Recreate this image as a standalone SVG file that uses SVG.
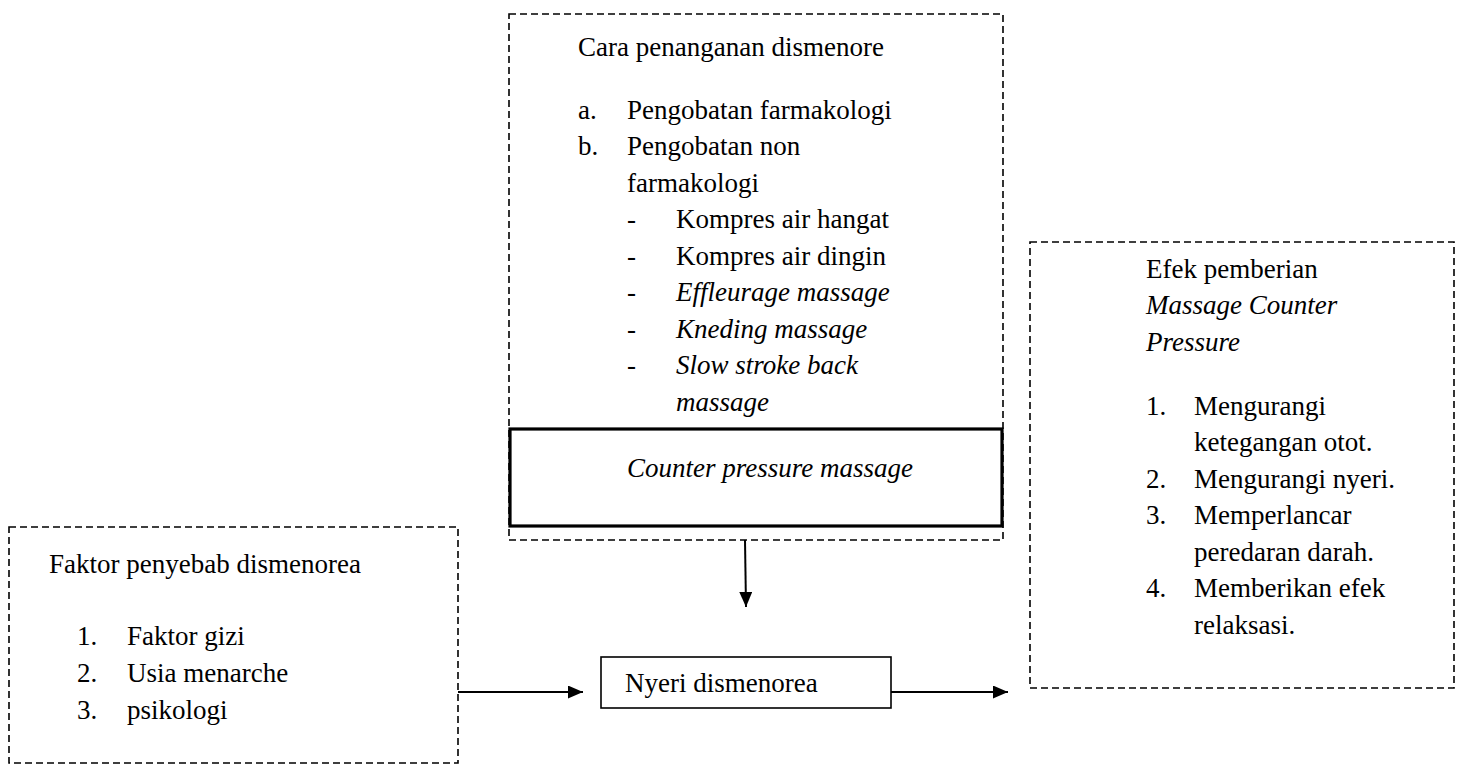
<svg xmlns="http://www.w3.org/2000/svg" width="1464" height="765" viewBox="0 0 1464 765">
<style>
.it{font-style:italic}
.dash{fill:none;stroke:#000;stroke-width:1.6;stroke-dasharray:7,4}
.solid{fill:#fff;stroke:#000;stroke-width:1.6}
.thick{fill:none;stroke:#000;stroke-width:3.2}
.conn{stroke:#000;stroke-width:2;fill:none}
</style>
<defs>
<marker id="ah" markerWidth="15" markerHeight="13" refX="15" refY="6.5" orient="auto" markerUnits="userSpaceOnUse">
<path d="M0,0 L15,6.5 L0,13 Z" fill="#000"/>
</marker>
</defs>
<rect width="1464" height="765" fill="#fff"/>
<g font-family="Liberation Serif, Times New Roman, Times, serif" font-size="27" fill="#000">
<g id="cara">
<rect class="dash" x="509" y="14" width="494" height="526"/>
<text x="578" y="56">Cara penanganan dismenore</text>
<text x="578" y="119">a.</text><text x="627" y="119">Pengobatan farmakologi</text>
<text x="578" y="155">b.</text><text x="627" y="155">Pengobatan non</text>
<text x="627" y="192">farmakologi</text>
<text x="627" y="228">-</text><text x="676" y="228">Kompres air hangat</text>
<text x="627" y="265">-</text><text x="676" y="265">Kompres air dingin</text>
<text x="627" y="301">-</text><text class="it" x="676" y="301">Effleurage massage</text>
<text x="627" y="338">-</text><text class="it" x="676" y="338">Kneding massage</text>
<text x="627" y="374">-</text><text class="it" x="676" y="374">Slow stroke back</text>
<text class="it" x="676" y="411">massage</text>
</g>
<g id="counter">
<rect class="thick" x="510" y="429" width="492" height="97"/>
<text class="it" x="627" y="477">Counter pressure massage</text>
</g>
<g id="faktor">
<rect class="dash" x="9" y="527" width="449" height="236"/>
<text x="49" y="573">Faktor penyebab dismenorea</text>
<text x="77" y="645">1.</text><text x="127" y="645">Faktor gizi</text>
<text x="77" y="682">2.</text><text x="127" y="682">Usia menarche</text>
<text x="77" y="719">3.</text><text x="127" y="719">psikologi</text>
</g>
<g id="nyeri">
<rect class="solid" x="601" y="657" width="290" height="51"/>
<text x="625" y="692">Nyeri dismenorea</text>
</g>
<g id="efek">
<rect class="dash" x="1030" y="242" width="424" height="446"/>
<text x="1146" y="278">Efek pemberian</text>
<text class="it" x="1146" y="314">Massage Counter</text>
<text class="it" x="1146" y="351">Pressure</text>
<text x="1146" y="415">1.</text><text x="1194" y="415">Mengurangi</text>
<text x="1194" y="451">ketegangan otot.</text>
<text x="1146" y="488">2.</text><text x="1194" y="488">Mengurangi nyeri.</text>
<text x="1146" y="524">3.</text><text x="1194" y="524">Memperlancar</text>
<text x="1194" y="561">peredaran darah.</text>
<text x="1146" y="597">4.</text><text x="1194" y="597">Memberikan efek</text>
<text x="1194" y="634">relaksasi.</text>
</g>
</g>
<g id="connectors">
<line class="conn" x1="745" y1="540" x2="746" y2="607" marker-end="url(#ah)"/>
<line class="conn" x1="458" y1="692" x2="583" y2="692" marker-end="url(#ah)"/>
<line class="conn" x1="891" y1="692" x2="1008" y2="692" marker-end="url(#ah)"/>
</g>
</svg>
